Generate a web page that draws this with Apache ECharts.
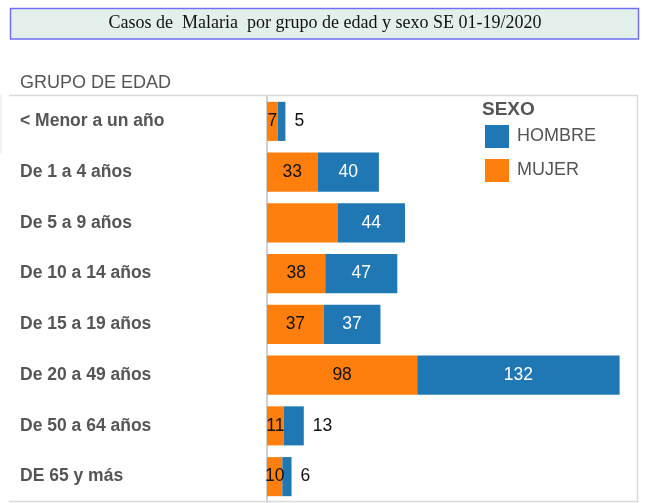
<!DOCTYPE html>
<html>
<head>
<meta charset="utf-8">
<script src="https://cdn.jsdelivr.net/npm/echarts@6/dist/echarts.min.js"></script>
<style>
  html, body { margin: 0; padding: 0; background: #fff; }
  #main { width: 650px; height: 503px; }
</style>
</head>
<body>
<div id="main"></div>
<script>
var grupos = ['< Menor a un año', 'De 1 a 4 años', 'De 5 a 9 años', 'De 10 a 14 años',
              'De 15 a 19 años', 'De 20 a 49 años', 'De 50 a 64 años', 'DE 65 y más'];
var mujer = [7, 33, 46, 38, 37, 98, 11, 10];
var hombre = [5, 40, 44, 47, 37, 132, 13, 6];
var mujerSinEtiqueta = [2];

var myChart = echarts.init(document.getElementById('main'));

var font = '"Liberation Sans", Arial, sans-serif';

option = {
    backgroundColor: '#fff',
    animation: false,
    textStyle: { fontFamily: font },
    title: {
        text: 'Casos de  Malaria  por grupo de edad y sexo SE 01-19/2020',
        left: 'center',
        top: 14,
        padding: 0,
        textStyle: {
            fontFamily: '"Liberation Serif", "Times New Roman", serif',
            fontWeight: 'normal',
            fontSize: 18,
            color: '#111'
        }
    },
    graphic: [
        {
            type: 'rect', z: -1,
            shape: { x: 10.5, y: 8.5, width: 628, height: 30.5 },
            style: { fill: '#e3efea', stroke: '#6f6ff2', lineWidth: 1.5 }
        },
        {
            type: 'text', left: 20, top: 74,
            style: { text: 'GRUPO DE EDAD', fill: '#555', font: '18px ' + font }
        },
        {
            type: 'line', z: -1,
            shape: { x1: 9, y1: 95.5, x2: 638, y2: 95.5 },
            style: { stroke: '#d9d9d9', lineWidth: 1.5 }
        },
        {
            type: 'line', z: -1,
            shape: { x1: 1, y1: 95, x2: 1, y2: 153 },
            style: { stroke: '#ececec', lineWidth: 1.5 }
        },
        {
            type: 'line', z: -1,
            shape: { x1: 637.5, y1: 95, x2: 637.5, y2: 503 },
            style: { stroke: '#d9d9d9', lineWidth: 1.5 }
        },
        {
            type: 'line', z: -1,
            shape: { x1: 9, y1: 501.5, x2: 638, y2: 501.5 },
            style: { stroke: '#d9d9d9', lineWidth: 1.5 }
        },
        {
            type: 'text', left: 482, top: 100,
            style: { text: 'SEXO', fill: '#555', font: 'bold 19px ' + font }
        }
    ],
    legend: {
        orient: 'vertical',
        left: 480,
        top: 120,
        itemWidth: 24,
        itemHeight: 23,
        itemGap: 11,
        icon: 'rect',
        data: ['HOMBRE', 'MUJER'],
        textStyle: { color: '#555', fontSize: 18, padding: [0, 0, 0, 3] }
    },
    grid: {
        left: 267,
        right: 12,
        top: 96,
        bottom: 1
    },
    xAxis: {
        type: 'value',
        min: 0,
        max: 242,
        show: false
    },
    yAxis: {
        type: 'category',
        inverse: true,
        data: grupos,
        axisTick: { show: false },
        axisLine: { lineStyle: { color: '#d0d0d0', width: 2 } },
        axisLabel: {
            align: 'left',
            margin: 247,
            color: '#555',
            fontWeight: 'bold',
            fontSize: 17.5
        }
    },
    series: [
        {
            name: 'MUJER',
            type: 'bar',
            stack: 'total',
            barCategoryGap: '23%',
            itemStyle: { color: '#ff7f0e' },
            label: { show: true, position: 'inside', color: '#111', fontSize: 17.5 },
            data: mujer.map(function (v, i) {
                return mujerSinEtiqueta.indexOf(i) >= 0 ? { value: v, label: { show: false } } : v;
            })
        },
        {
            name: 'HOMBRE',
            type: 'bar',
            stack: 'total',
            itemStyle: { color: '#1f77b4' },
            label: { show: true, position: 'inside', color: '#fff', fontSize: 17.5 },
            data: hombre.map(function (v) {
                return v < 15 ? { value: v, label: { position: 'right', distance: 9, color: '#111' } } : v;
            })
        }
    ]
};
myChart.setOption(option);
</script>
</body>
</html>
